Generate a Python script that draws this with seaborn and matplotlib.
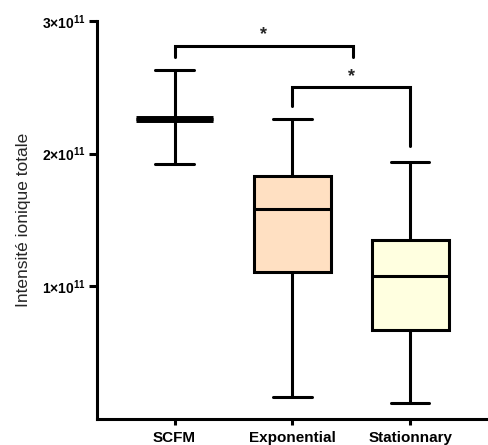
import matplotlib
matplotlib.use("Agg")
import matplotlib.pyplot as plt
import seaborn as sns
import pandas as pd
import numpy as np

# Data: five-number summaries (min, Q1, median, Q3, max), in units of 1e11
categories = ["SCFM", "Exponential", "Stationnary"]
scfm_vals = [1.92, 2.26, 2.26, 2.26, 2.63]
expo_vals = [0.165, 1.105, 1.58, 1.83, 2.26]
stat_vals = [0.12, 0.67, 1.077, 1.353, 1.935]
fill_colors = ["#FFFFFF", "#FFE0C2", "#FFFFE0"]
ytick_vals = [1e11, 2e11, 3e11]
ytick_labels = ["1×10$^{11}$", "2×10$^{11}$", "3×10$^{11}$"]

# significance brackets: (x_left, x_right, y_bar, y_left_end, y_right_end)
brackets = [(0.0, 1.51, 2.81e11, 2.73e11, 2.73e11),
            (1.0, 2.0, 2.50e11, 2.36e11, 2.06e11)]

sns.set_theme(style="ticks")
plt.rcParams["font.family"] = ["Liberation Sans", "DejaVu Sans"]
plt.rcParams["mathtext.fontset"] = "custom"
plt.rcParams["mathtext.rm"] = "Liberation Sans:bold"
plt.rcParams["mathtext.it"] = "Liberation Sans:bold"
plt.rcParams["mathtext.bf"] = "Liberation Sans:bold"

groups, values = [], []
for cat, vals in zip(categories, [scfm_vals, expo_vals, stat_vals]):
    groups += [cat] * len(vals)
    values += [v * 1e11 for v in vals]
df = pd.DataFrame({"group": groups, "value": values})

fig = plt.figure(figsize=(4.89, 4.45), dpi=100)
ax = fig.add_axes([0.198, 0.058, 0.80, 0.895])

lw = 2.2
sns.boxplot(data=df, x="group", y="value", hue="group", order=categories,
            palette=dict(zip(categories, fill_colors)), whis=(0, 100),
            width=0.65, linecolor="black", linewidth=lw, showfliers=False,
            saturation=1, legend=False, ax=ax)

# thicker median for SCFM (collapsed box)
for line in ax.lines:
    xd = np.asarray(line.get_xdata(), dtype=float)
    yd = np.asarray(line.get_ydata(), dtype=float)
    if len(xd) == 2 and abs(yd[0] - yd[1]) < 1 and abs(yd[0] - 2.26e11) < 1e8 and xd.mean() < 0.5:
        line.set_linewidth(5)

for patch in ax.patches:
    patch.set_edgecolor("black")

ax.set_xlim(-0.66, 2.66)
ax.set_ylim(0, 3e11)
ax.set_yticks(ytick_vals)
ax.set_yticklabels(ytick_labels, fontsize=10, fontweight="bold")
ax.set_xticks(range(len(categories)))
ax.set_xticklabels(categories, fontsize=11, fontweight="bold")
ax.set_xlabel("")
ax.set_ylabel("Intensité ionique totale", fontsize=12.5, labelpad=8)

for side in ["top", "right"]:
    ax.spines[side].set_visible(False)
for side in ["left", "bottom"]:
    ax.spines[side].set_linewidth(lw)
    ax.spines[side].set_color("black")
ax.tick_params(axis="y", length=6, width=lw, colors="black", pad=2)
ax.tick_params(axis="x", length=4.5, width=lw, colors="black", pad=4)

for x0, x1, yb, yl, yr in brackets:
    ax.plot([x0, x0, x1, x1], [yl, yb, yb, yr], color="black", lw=lw,
            solid_joinstyle="miter", clip_on=False)
    ax.text((x0 + x1) / 2, yb + 0.02e11, "*", ha="center", va="bottom",
            fontsize=13, fontweight="bold")

fig.savefig("out.png", dpi=100)
